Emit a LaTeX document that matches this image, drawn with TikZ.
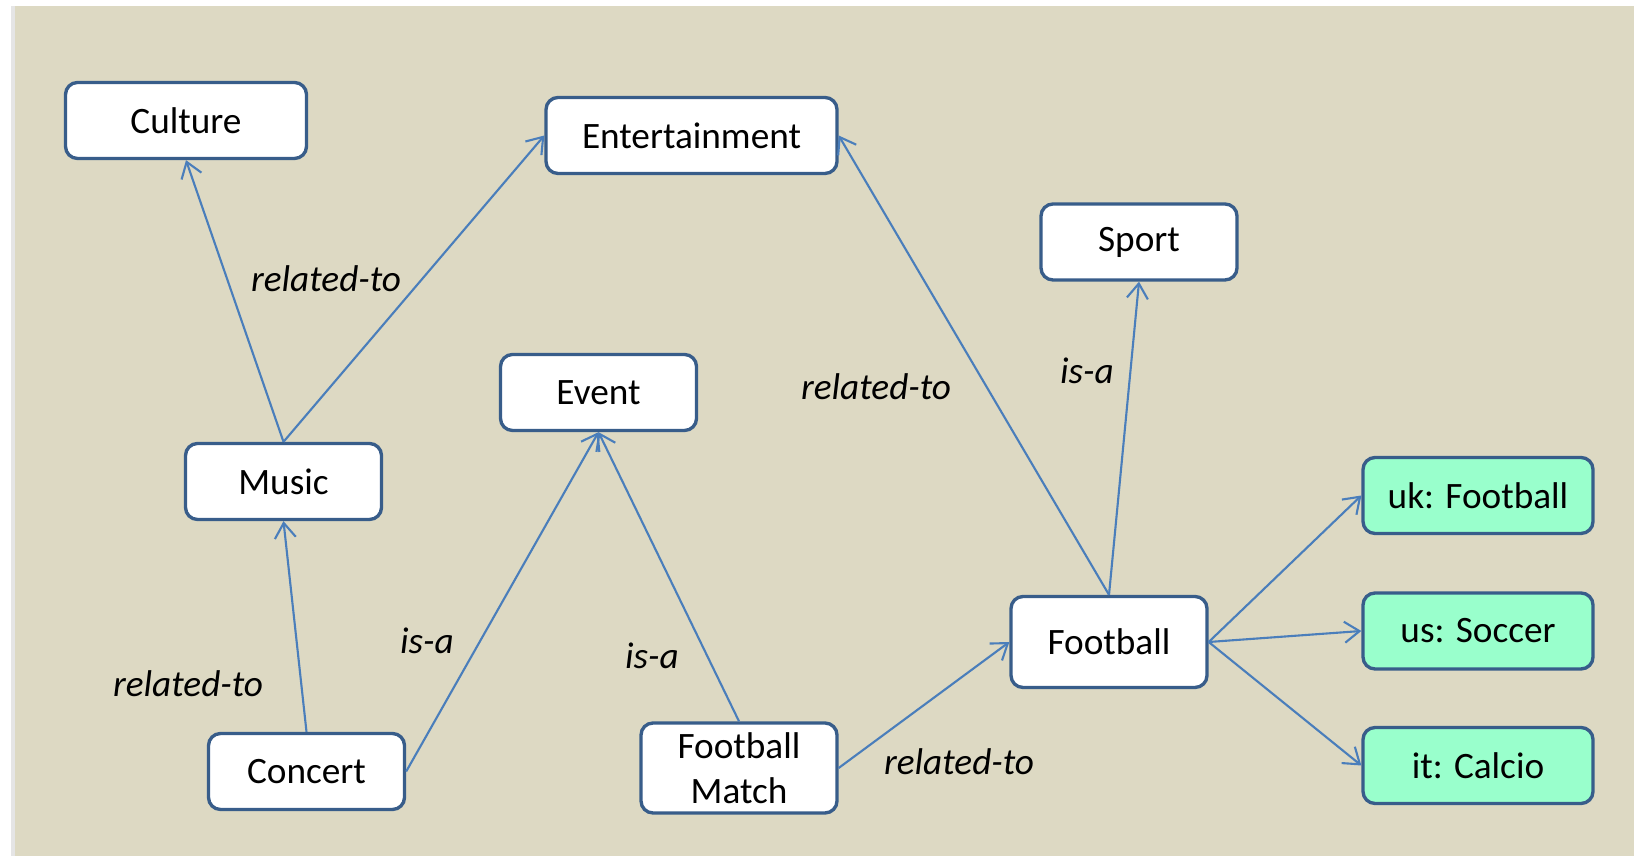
\documentclass[tikz,border=0pt]{standalone}
\usepackage{fontspec}
\setmainfont{Carlito}
\usepackage{xcolor}
\usetikzlibrary{arrows.meta}
\definecolor{bgTan}{HTML}{DDD9C3}
\definecolor{boxBlue}{HTML}{385D8A}
\definecolor{lineBlue}{HTML}{4A7EBB}
\definecolor{langGreen}{HTML}{99FFCC}

\begin{document}
\begin{tikzpicture}
        \tikzstyle{every node}=[font=\fontsize{21.2}{25.5}\selectfont]
        \tikzset{concept/.style = {shape=rectangle,rounded corners=0.24cm,draw=boxBlue,line width=1.9pt,fill=white,minimum width=3.92cm,minimum height=1.52cm,align=center}}
        \tikzset{term/.style = {concept,fill=langGreen,minimum width=4.6cm}}
        \tikzset{rel/.style = {font=\fontsize{21.2}{25.5}\selectfont\itshape}}
        \tikzset{edge/.style = {draw=lineBlue,line width=1.2pt,-{Straight Barb[length=0.3cm,width=0.42cm]}}}
        % background
        \useasboundingbox (0,0) rectangle (32.68,17.12);
        \fill[black!10] (0.22,0) rectangle (32.68,17.0);
        \fill[bgTan] (0.3,0) rectangle (32.68,17.0);
        % concepts
        \node[concept,minimum width=4.82cm] (culture) at (3.72,14.71) {Culture};
        \node[concept,minimum width=5.82cm] (entertain) at (13.83,14.41) {Entertainment};
        \node[concept] (sport) at (22.78,12.28) {Sport};
        \node[concept] (event) at (11.97,9.27) {Event};
        \node[concept] (music) at (5.67,7.49) {Music};
        \node[concept,minimum height=1.82cm] (football) at (22.18,4.28) {Football};
        \node[concept] (concert) at (6.13,1.69) {Concert};
        \node[concept,minimum height=1.8cm] (fbmatch) at (14.78,1.76) {Football\\Match};
        \node[term] (ukterm) at (29.56,7.21) {uk: Football};
        \node[term] (usterm) at (29.56,4.50) {us: Soccer};
        \node[term] (itterm) at (29.56,1.81) {it: Calcio};
        % relations
        \node[rel] (rel1) at (6.52,11.54) {related-to};
        \node[rel] (rel2) at (17.52,9.38) {related-to};
        \node[rel] (isa1) at (21.74,9.70) {is-a};
        \node[rel] (isa2) at (8.54,4.30) {is-a};
        \node[rel] (isa3) at (13.04,4.00) {is-a};
        \node[rel] (rel3) at (3.76,3.44) {related-to};
        \node[rel] (rel4) at (19.18,1.88) {related-to};
        % edges
        \draw[edge] (music.north) to (culture.south);
        \draw[edge] (music.north) to (entertain.west);
        \draw[edge] (concert.north) to (music.south);
        \draw[edge] (concert.east) to (event.south);
        \draw[edge] (fbmatch.north) to (event.south);
        \draw[edge] (fbmatch.east) to (football.west);
        \draw[edge] (football.north) to (entertain.east);
        \draw[edge] (football.north) to (sport.south);
        \draw[edge] (football.east) to (ukterm.west);
        \draw[edge] (football.east) to (usterm.west);
        \draw[edge] (football.east) to (itterm.west);
\end{tikzpicture}
\end{document}
